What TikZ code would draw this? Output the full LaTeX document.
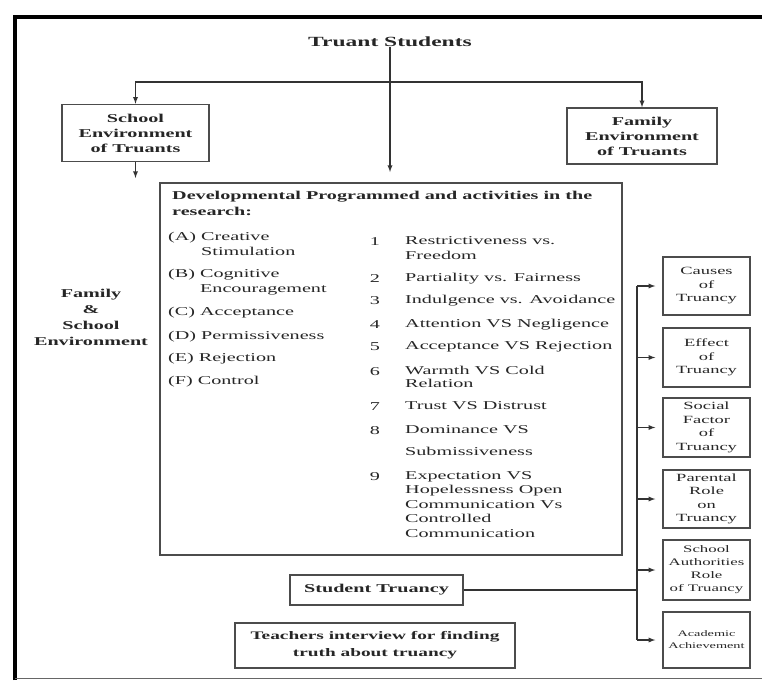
\documentclass[tikz,border=0pt]{standalone}
\usepackage{fontspec}
\setmainfont{Liberation Serif}[FakeStretch=1.68]
\usetikzlibrary{arrows,positioning,calc}

\begin{document}
\begin{tikzpicture}[x=1pt,y=-1pt,
  box/.style={draw=black!70, line width=1.5pt, align=center, inner sep=0pt, text=black!85, font=\bfseries\fontsize{12}{15}\selectfont},
  sidebox/.style={draw=black!70, line width=1.5pt, align=center, inner sep=0pt, minimum width=87pt, text=black!85, font=\fontsize{11}{13.5}\selectfont},
  link/.style={draw=black!80, line width=1.3pt, -latex},
  wire/.style={draw=black!80, line width=1.3pt},
  itm/.style={anchor=north west, inner sep=0pt, align=left, text=black!85, font=\fontsize{12}{15}\selectfont},
  num/.style={inner sep=0pt, text=black!85, font=\fontsize{12}{15}\selectfont}]
  % Page frame
  \useasboundingbox (0,0) rectangle (762,680);
  \draw[line width=3.5pt] (15,680) -- (15,17) -- (762,17);
  \draw[line width=1pt, black!60] (15,678) -- (762,678);
  % Top part
  \node[inner sep=0pt, text=black!85, font=\bfseries\fontsize{14}{16}\selectfont] (title) at (390,42) {Truant Students};
  \node[box, minimum width=147pt, minimum height=57pt] (school) at (135.5,133) {School\\Environment\\of Truants};
  \node[box, minimum width=150pt, minimum height=56pt] (family) at (642,136) {Family\\Environment\\of Truants};
  \node[inner sep=0pt, align=center, text=black!85, font=\bfseries\fontsize{12}{16}\selectfont] (fse) at (91,317) {Family\\\&\\School\\Environment};
  \coordinate (bus) at (title.south |- 0,82);
  \coordinate (devtop) at (title.south |- 0,172);
  \coordinate (schooldown) at (school.south |- 0,178);
  \draw[wire] (title.south) -- (bus);
  \draw[link] (bus) -| (school.north);
  \draw[link] (bus) -| (family.north);
  \draw[link] (bus) -- (devtop);
  \draw[link] (school.south) -- (schooldown);
  % Programme box
  \node[draw=black!70, line width=1.5pt, minimum width=462pt, minimum height=372pt, inner sep=0pt] (dev) at (391,369) {};
  \node[itm, font=\bfseries\fontsize{12}{16}\selectfont] (devtitle) at (172,191) {Developmental Programmed and activities in the\\research:};
  \node[itm] (itA) at (168,232) {(A) Creative\\\phantom{(A) }Stimulation};
  \node[itm] (itB) at (168,269) {(B) Cognitive\\\phantom{(B) }Encouragement};
  \node[itm] (itC) at (168,307) {(C) Acceptance};
  \node[itm] (itD) at (168,331) {(D) Permissiveness};
  \node[itm] (itE) at (168,353) {(E) Rejection};
  \node[itm] (itF) at (168,376) {(F) Control};
  \foreach \k/\yy in {1/242,2/279,3/301,4/325,5/347,6/372,7/407,8/431,9/477}
    \node[num] (n\k) at (375,\yy) {\k};
  \node[itm] (r1) at (405,236) {Restrictiveness vs.\\Freedom};
  \node[itm] (r2) at (405,273) {Partiality vs. Fairness};
  \node[itm] (r3) at (405,295) {Indulgence vs. Avoidance};
  \node[itm] (r4) at (405,319) {Attention VS Negligence};
  \node[itm] (r5) at (405,341) {Acceptance VS Rejection};
  \node[itm, font=\fontsize{12}{13}\selectfont] (r6) at (405,366) {Warmth VS Cold\\Relation};
  \node[itm] (r7) at (405,401) {Trust VS Distrust};
  \node[itm] (r8) at (405,425) {Dominance VS\\[7pt]Submissiveness};
  \node[itm, font=\fontsize{12}{14.5}\selectfont] (r9) at (405,471) {Expectation VS\\Hopelessness Open\\Communication Vs\\Controlled\\Communication};
  % Bottom boxes
  \node[box, minimum width=173pt, minimum height=30pt] (stud) at (376.5,590) {Student Truancy};
  \node[box, minimum width=280pt, minimum height=45pt, font=\bfseries\fontsize{11.5}{17}\selectfont] (teach) at (375,645.5) {Teachers interview for finding\\truth about truancy};
  % Right column
  \node[sidebox, minimum height=58pt] (side1) at (706.5,286) {Causes\\of\\Truancy};
  \node[sidebox, minimum height=59pt] (side2) at (706.5,357.5) {Effect\\of\\Truancy};
  \node[sidebox, minimum height=59pt] (side3) at (706.5,427.5) {Social\\Factor\\of\\Truancy};
  \node[sidebox, minimum height=58pt] (side4) at (706.5,499) {Parental\\Role\\on\\Truancy};
  \node[sidebox, minimum height=60pt, font=\fontsize{10}{13}\selectfont] (side5) at (706.5,570) {School\\Authorities\\Role\\of Truancy};
  \node[sidebox, minimum height=56pt, font=\fontsize{8.5}{12}\selectfont] (side6) at (706.5,640) {Academic\\Achievement};
  \coordinate (sbus) at (637,0);
  \draw[wire] (sbus |- side1.west) -- (sbus |- side6.west);
  \foreach \s in {1,...,6}
    \draw[link, shorten >=7pt] (sbus |- side\s.west) -- (side\s.west);
  \draw[wire] (stud.east) -- (stud.east -| sbus);
\end{tikzpicture}
\end{document}
